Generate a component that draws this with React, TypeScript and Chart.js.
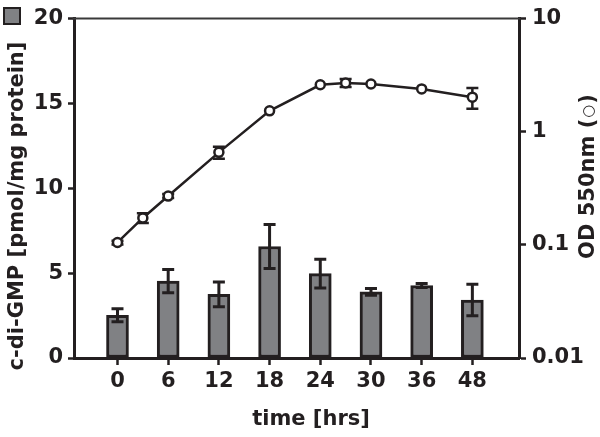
import React, { useEffect, useRef } from 'react';
import { Chart, registerables } from 'chart.js';

Chart.register(...registerables);

// ---- data ----
const categories = ['0', '6', '12', '18', '24', '30', '36', '48'];
const categoryTimes = [0, 6, 12, 18, 24, 30, 36, 48];
const cdgmpValues = [2.52, 4.53, 3.75, 6.57, 4.97, 3.9, 4.27, 3.42];
const cdgmpErrors = [0.38, 0.68, 0.73, 1.29, 0.85, 0.2, 0.12, 0.93];
const odTimes = [0, 3, 6, 12, 18, 24, 27, 30, 36, 48];
const odValues = [0.105, 0.173, 0.27, 0.657, 1.53, 2.6, 2.7, 2.64, 2.39, 2.02];
const odErrors = [0.004, 0.017, 0.011, 0.08, 0, 0, 0.22, 0, 0, 0.42];
const leftTicks = [0, 5, 10, 15, 20];
const rightTicks = [0.01, 0.1, 1, 10];

const leftTitle = 'c-di-GMP [pmol/mg protein]';
const rightTitleParts = ['OD 550nm (', '○', ')'];
const xTitle = 'time [hrs]';

const DARK = '#231f20';
const BAR_FILL = '#808184';
const FONT = 'DejaVu Sans';

function timeToPos(t: number): number {
  for (let i = 0; i < categoryTimes.length - 1; i++) {
    if (t <= categoryTimes[i + 1]) {
      return i + (t - categoryTimes[i]) / (categoryTimes[i + 1] - categoryTimes[i]);
    }
  }
  return categoryTimes.length - 1;
}

function drawErr(ctx: CanvasRenderingContext2D, px: number, top: number, bot: number, cap: number) {
  ctx.beginPath();
  ctx.moveTo(px, top);
  ctx.lineTo(px, bot);
  ctx.moveTo(px - cap / 2, top);
  ctx.lineTo(px + cap / 2, top);
  ctx.moveTo(px - cap / 2, bot);
  ctx.lineTo(px + cap / 2, bot);
  ctx.stroke();
}

const decorPlugin = {
  id: 'decor',
  beforeDatasetsDraw(chart: any) {
    const ctx = chart.ctx as CanvasRenderingContext2D;
    const xs = chart.scales.x;
    const ys = chart.scales.y1;
    ctx.save();
    ctx.strokeStyle = DARK;
    ctx.lineWidth = 2.5;
    odValues.forEach((v, i) => {
      const e = odErrors[i];
      if (!e) return;
      const px = xs.getPixelForValue(timeToPos(odTimes[i]));
      drawErr(ctx, px, ys.getPixelForValue(v + e), ys.getPixelForValue(v - e), 12);
    });
    ctx.restore();
  },
  afterDatasetsDraw(chart: any) {
    const ctx = chart.ctx as CanvasRenderingContext2D;
    const xs = chart.scales.x;
    const ys = chart.scales.y;
    ctx.save();
    ctx.strokeStyle = DARK;
    ctx.lineWidth = 3;
    cdgmpValues.forEach((v, i) => {
      const e = cdgmpErrors[i];
      const px = xs.getPixelForValue(i);
      drawErr(ctx, px, ys.getPixelForValue(v + e), ys.getPixelForValue(v - e), 12);
    });
    ctx.restore();
  },
  afterDraw(chart: any) {
    const ctx = chart.ctx as CanvasRenderingContext2D;
    const area = chart.chartArea;
    ctx.save();
    // top frame line
    ctx.strokeStyle = '#3a3a3a';
    ctx.lineWidth = 2;
    ctx.beginPath();
    ctx.moveTo(area.left - 1.5, area.top);
    ctx.lineTo(area.right + 1.5, area.top);
    ctx.stroke();

    ctx.fillStyle = DARK;
    const bold = `bold 21px "${FONT}"`;
    ctx.font = bold;
    // left title
    ctx.save();
    ctx.translate(23, 206);
    ctx.rotate(-Math.PI / 2);
    ctx.textAlign = 'center';
    ctx.textBaseline = 'alphabetic';
    ctx.fillText(leftTitle, 0, 0);
    ctx.restore();
    // legend square
    ctx.fillStyle = BAR_FILL;
    ctx.fillRect(4, 8, 16, 16);
    ctx.strokeStyle = DARK;
    ctx.lineWidth = 2;
    ctx.strokeRect(4, 8, 16, 16);
    // right title (three text pieces, symbol slightly smaller)
    ctx.fillStyle = DARK;
    ctx.save();
    ctx.translate(594, 176.5);
    ctx.rotate(-Math.PI / 2);
    ctx.textAlign = 'left';
    ctx.textBaseline = 'alphabetic';
    const symFont = `15px "${FONT}"`;
    ctx.font = bold;
    const w0 = ctx.measureText(rightTitleParts[0]).width;
    const w2 = ctx.measureText(rightTitleParts[2]).width;
    ctx.font = symFont;
    const w1 = ctx.measureText(rightTitleParts[1]).width;
    const total = w0 + w1 + w2 + 2;
    let cx = -total / 2;
    ctx.font = bold;
    ctx.fillText(rightTitleParts[0], cx, 0);
    cx += w0 + 1;
    ctx.font = symFont;
    ctx.fillText(rightTitleParts[1], cx, -1.5);
    cx += w1 + 1;
    ctx.font = bold;
    ctx.fillText(rightTitleParts[2], cx, 0);
    ctx.restore();
    // x title
    ctx.font = bold;
    ctx.textAlign = 'center';
    ctx.textBaseline = 'alphabetic';
    ctx.fillText(xTitle, 311, 425);
    ctx.restore();
  },
};

const tickFont = { family: FONT, weight: 'bold' as const, size: 21 };

export default function App() {
  const ref = useRef<HTMLCanvasElement | null>(null);

  useEffect(() => {
    if (!ref.current) return;
    const chart = new Chart(ref.current, {
      type: 'bar',
      data: {
        datasets: [
          {
            type: 'line',
            label: 'OD 550nm',
            data: odTimes.map((t, i) => ({ x: timeToPos(t), y: odValues[i] })),
            yAxisID: 'y1',
            xAxisID: 'x',
            borderColor: DARK,
            borderWidth: 2.5,
            backgroundColor: '#ffffff',
            pointRadius: 4.5,
            pointBorderWidth: 2.5,
            pointBackgroundColor: '#ffffff',
            pointBorderColor: DARK,
            tension: 0,
            order: 0,
          } as any,
          {
            type: 'bar',
            label: 'c-di-GMP',
            data: cdgmpValues.map((v, i) => ({ x: i, y: v })),
            yAxisID: 'y',
            xAxisID: 'x',
            backgroundColor: BAR_FILL,
            borderColor: DARK,
            borderWidth: 3,
            borderSkipped: false,
            barThickness: 22,
            order: 1,
          } as any,
        ],
      },
      options: {
        animation: false,
        responsive: true,
        maintainAspectRatio: false,
        layout: { padding: { top: 15, left: 0, right: 0, bottom: 0 } },
        plugins: { legend: { display: false }, tooltip: { enabled: false } },
        scales: {
          x: {
            type: 'linear',
            position: 'bottom',
            offset: false,
            min: -0.858,
            max: 7.92,
            afterBuildTicks: (scale: any) => {
              scale.ticks = categories.map((_, i) => ({ value: i }));
            },
            afterFit: (scale: any) => {
              scale.height = 79;
            },
            ticks: {
              font: tickFont,
              color: DARK,
              padding: 4,
              maxRotation: 0,
              autoSkip: false,
              callback: (v: any) => categories[Math.round(Number(v))] ?? '',
            },
            grid: {
              display: true,
              offset: false,
              drawOnChartArea: false,
              drawTicks: true,
              tickLength: 7,
              tickWidth: 2.5,
              tickColor: DARK,
            },
            border: { display: true, width: 3, color: DARK },
          },
          y: {
            type: 'linear',
            position: 'left',
            min: 0,
            max: 20,
            afterBuildTicks: (scale: any) => {
              scale.ticks = leftTicks.map((v) => ({ value: v }));
            },
            afterFit: (scale: any) => {
              scale.width = 74;
            },
            ticks: { font: tickFont, color: DARK, padding: 5 },
            grid: {
              display: true,
              drawOnChartArea: false,
              drawTicks: true,
              tickLength: 6,
              tickWidth: 2.5,
              tickColor: DARK,
            },
            border: { display: true, width: 3, color: DARK },
          },
          y1: {
            type: 'logarithmic',
            position: 'right',
            min: 0.01,
            max: 10,
            afterBuildTicks: (scale: any) => {
              scale.ticks = rightTicks.map((v) => ({ value: v }));
            },
            afterFit: (scale: any) => {
              scale.width = 81;
            },
            ticks: {
              font: tickFont,
              color: DARK,
              padding: 6,
              callback: (v: any) => String(v),
            },
            grid: {
              display: true,
              drawOnChartArea: false,
              drawTicks: true,
              tickLength: 7,
              tickWidth: 2.5,
              tickColor: DARK,
            },
            border: { display: true, width: 3, color: DARK },
          },
        },
      } as any,
      plugins: [decorPlugin],
    });
    return () => chart.destroy();
  }, []);

  return (
    <div style={{ position: 'fixed', left: 0, top: 0, width: 600, height: 437, background: '#ffffff' }}>
      <canvas ref={ref} />
    </div>
  );
}
